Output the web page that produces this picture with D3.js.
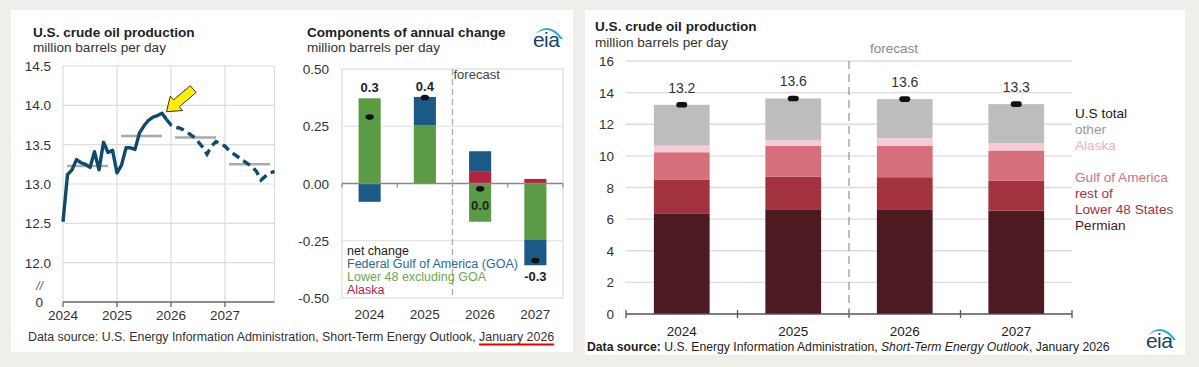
<!DOCTYPE html>
<html><head><meta charset="utf-8">
<script src="https://cdn.jsdelivr.net/npm/d3@7"></script>
<style>body{margin:0;background:#efeeea;}svg{display:block;font-family:"Liberation Sans",Arial,sans-serif;}</style>
</head><body>
<svg id="c" width="1199" height="367"></svg>
<script>
// ---------- DATA ----------
// Chart 1: monthly U.S. crude oil production (million b/d)
const prodActual = [12.52,13.12,13.18,13.31,13.27,13.25,13.21,13.41,13.18,13.53,13.40,13.43,
                    13.14,13.24,13.46,13.46,13.44,13.65,13.74,13.81,13.85,13.87,13.90,13.82];
const prodForecast = [13.75,13.72,13.71,13.68,13.64,13.60,13.54,13.47,13.38,13.48,13.54,13.51,
                      13.48,13.42,13.38,13.34,13.30,13.26,13.22,13.16,13.05,13.10,13.14,13.16];
const annualAvg = [13.23,13.61,13.59,13.25];
const years = ["2024","2025","2026","2027"];
const yTicks1 = [12.0,12.5,13.0,13.5,14.0,14.5];

// Chart 2: components of annual change
const chgL48 = [0.372,0.253,-0.167,-0.244];
const chgAlaska = [0.0,0.0,0.054,0.020];
const chgGOA = [-0.080,0.125,0.087,-0.113];
const chgNet = [0.29,0.375,-0.023,-0.336];
const chgLabels = ["0.3","0.4","0.0","-0.3"];
const yTicks2 = [0.50,0.25,0.00,-0.25,-0.50];
const legend2 = ["net change","Federal Gulf of America (GOA)","Lower 48 excluding GOA","Alaska"];

// Chart 3: production by region
const permian = [6.33,6.58,6.58,6.54];
const restL48 = [2.15,2.11,2.07,1.88];
const gulf = [1.75,1.94,1.98,1.92];
const alaska = [0.42,0.38,0.49,0.46];
const other = [2.58,2.62,2.47,2.47];
const totals = [13.23,13.63,13.59,13.27];
const totalLabels = ["13.2","13.6","13.6","13.3"];
const yTicks3 = [0,2,4,6,8,10,12,14,16];
const legend3 = ["U.S total","other","Alaska","Gulf of America","rest of","Lower 48 States","Permian"];

// ---------- DRAW ----------
const svg = d3.select("#c");
svg.append("rect").attr("width",1199).attr("height",367).attr("fill","#efeeea");
svg.append("rect").attr("x",11).attr("y",10).attr("width",562).attr("height",342).attr("fill","#fff");
svg.append("rect").attr("x",585).attr("y",10).attr("width",600).attr("height",345).attr("fill","#fff");

const grid = "#dcdcdc", txt = "#333";

function logo(x, y){
  const g = svg.append("g");
  g.append("path").attr("d",`M${x+2},${y-12} Q${x+17},${y-28} ${x+31},${y-8} L${x+28.3},${y-8} Q${x+17},${y-23.5} ${x+2},${y-12} Z`).attr("fill","#2ba6de");
  g.append("text").attr("x",x+1).attr("y",y).attr("font-size",21).attr("letter-spacing",-0.6)
   .attr("fill","#1c3f6e").text("eia");
}

// ===== Chart 1 =====
{
  const x = d3.scaleLinear().domain([0,47]).range([63,274.5]);
  const y = d3.scaleLinear().domain([11.5,14.5]).range([302,66]);
  const g = svg.append("g");
  g.append("text").attr("x",33).attr("y",37).attr("font-size",13.6).attr("font-weight","bold").attr("fill","#222").text("U.S. crude oil production");
  g.append("text").attr("x",33).attr("y",52).attr("font-size",13.6).attr("fill","#333").text("million barrels per day");
  g.selectAll(".hg").data(yTicks1).join("line").attr("x1",x(0)).attr("x2",x(47)).attr("y1",d=>y(d)).attr("y2",d=>y(d)).attr("stroke",grid).attr("stroke-width",1.2);
  g.selectAll(".vg").data([0,12,24,36,47]).join("line").attr("x1",d=>x(d)).attr("x2",d=>x(d)).attr("y1",y(14.5)).attr("y2",y(11.5)).attr("stroke",grid).attr("stroke-width",1.2);
  g.selectAll(".yl").data(yTicks1).join("text").attr("x",51).attr("y",d=>y(d)+5).attr("text-anchor","end").attr("font-size",13.5).attr("fill",txt).text(d=>d.toFixed(1));
  g.append("text").attr("x",43).attr("y",y(11.5)+5).attr("text-anchor","end").attr("font-size",13.5).attr("fill",txt).text("0");
  g.append("text").attr("x",43).attr("y",y(11.72)+5).attr("text-anchor","end").attr("font-size",12).attr("font-style","italic").attr("fill","#555").text("//");
  g.append("line").attr("x1",x(0)).attr("x2",x(47)).attr("y1",y(11.5)).attr("y2",y(11.5)).attr("stroke","#666").attr("stroke-width",1.5);
  g.selectAll(".xt").data([0,12,24,36]).join("line").attr("x1",d=>x(d)).attr("x2",d=>x(d)).attr("y1",y(11.5)).attr("y2",y(11.5)+5).attr("stroke","#666").attr("stroke-width",1.3);
  g.selectAll(".xl").data(years).join("text").attr("x",(d,i)=>x(i*12)).attr("y",320).attr("text-anchor","middle").attr("font-size",13.5).attr("fill",txt).text(d=>d);
  g.selectAll(".avg").data(annualAvg).join("line").attr("x1",(d,i)=>x(i*12+0.9)).attr("x2",(d,i)=>x(i*12+10)).attr("y1",d=>y(d)).attr("y2",d=>y(d)).attr("stroke","#aaa").attr("stroke-width",2.5);
  const line = d3.line().x(d=>x(d[0])).y(d=>y(d[1]));
  const act = prodActual.map((v,i)=>[i,v]);
  const fc = [[23,prodActual[23]]].concat(prodForecast.map((v,i)=>[24+i,v]));
  g.append("path").attr("d",line(act)).attr("fill","none").attr("stroke","#0e4a6b").attr("stroke-width",3.4).attr("stroke-linejoin","round");
  g.append("path").attr("d",line(fc)).attr("fill","none").attr("stroke","#0e4a6b").attr("stroke-width",3.4).attr("stroke-dasharray","8,5");
  const pk = d3.maxIndex(prodActual);
  const tx = x(pk)+4.5, ty = y(prodActual[pk])-1.5;
  const ang = Math.atan2(-22,26);
  const pts = [[0,0],[13,-9.5],[13,-4.5],[35,-4.5],[35,4.5],[13,4.5],[13,9.5]].map(([a,b])=>[tx+a*Math.cos(ang)-b*Math.sin(ang), ty+a*Math.sin(ang)+b*Math.cos(ang)]);
  g.append("polygon").attr("points",pts.map(p=>p.join(",")).join(" ")).attr("fill","#ffee00").attr("stroke","#333").attr("stroke-width",1);
}

// ===== Chart 2 =====
{
  const x = d3.scaleBand().domain(years).range([342,563]).paddingInner(0.6).paddingOuter(0.3);
  const y = d3.scaleLinear().domain([-0.5,0.5]).range([298,69]);
  const g = svg.append("g");
  g.append("text").attr("x",307).attr("y",37).attr("font-size",13.6).attr("font-weight","bold").attr("fill","#222").text("Components of annual change");
  g.append("text").attr("x",307).attr("y",52).attr("font-size",13.6).attr("fill","#333").text("million barrels per day");
  logo(532,47);
  g.selectAll(".hg").data([0.25,-0.25]).join("line").attr("x1",342).attr("x2",563).attr("y1",d=>y(d)).attr("y2",d=>y(d)).attr("stroke",grid).attr("stroke-width",1.2);
  g.append("rect").attr("x",342).attr("y",y(0.5)).attr("width",221).attr("height",y(-0.5)-y(0.5)).attr("fill","none").attr("stroke",grid).attr("stroke-width",1.2);
  g.selectAll(".yl").data(yTicks2).join("text").attr("x",329).attr("y",d=>y(d)+5).attr("text-anchor","end").attr("font-size",13.5).attr("fill",txt).text(d=>d.toFixed(2));
  const rows = years.map((yr,i)=>({yr, L48:chgL48[i], Alaska:chgAlaska[i], GOA:chgGOA[i]}));
  const stack = d3.stack().keys(["L48","Alaska","GOA"]).offset(d3.stackOffsetDiverging)(rows);
  const col = {L48:"#5b9b45", Alaska:"#b3233b", GOA:"#1b5a87"};
  stack.forEach(s=>{
    g.selectAll(null).data(s).join("rect").attr("x",d=>x(d.data.yr)).attr("width",x.bandwidth())
      .attr("y",d=>y(Math.max(d[0],d[1]))).attr("height",d=>Math.abs(y(d[0])-y(d[1]))).attr("fill",col[s.key]);
  });
  g.append("line").attr("x1",342).attr("x2",563).attr("y1",y(0)).attr("y2",y(0)).attr("stroke","#888").attr("stroke-width",1.3);
  g.selectAll(".zt").data(d3.range(5)).join("line").attr("x1",d=>342+d*x.step()).attr("x2",d=>342+d*x.step()).attr("y1",y(0)).attr("y2",y(0)+4).attr("stroke","#888").attr("stroke-width",1.2);
  const fx = (x("2025")+x.bandwidth()+x("2026"))/2;
  g.append("line").attr("x1",fx).attr("x2",fx).attr("y1",y(0.5)).attr("y2",y(-0.5)).attr("stroke","#aaa").attr("stroke-width",1.3).attr("stroke-dasharray","6,4");
  g.append("text").attr("x",fx+1).attr("y",79).attr("font-size",13).attr("fill","#444").text("forecast");
  g.selectAll(".net").data(chgNet).join("ellipse").attr("cx",(d,i)=>x(years[i])+x.bandwidth()/2).attr("cy",d=>y(d)).attr("rx",4.2).attr("ry",2.8).attr("fill","#111");
  g.selectAll(".nl").data(chgLabels).join("text").attr("x",(d,i)=>x(years[i])+x.bandwidth()/2)
    .attr("y",(d,i)=>{ const pos = Math.max(0,chgL48[i])+Math.max(0,chgAlaska[i])+Math.max(0,chgGOA[i]); return chgNet[i]>=0 ? y(pos)-6 : y(chgNet[i])+21; })
    .attr("text-anchor","middle").attr("font-size",13).attr("font-weight","bold").attr("fill","#222").text(d=>d);
  const lc = ["#222","#2a6a96","#6aa84f","#b3233b"];
  g.selectAll(".lg").data(legend2).join("text").attr("x",347).attr("y",(d,i)=>254.5+i*13.3).attr("font-size",12.5).attr("fill",(d,i)=>lc[i]).text(d=>d);
  g.selectAll(".xl").data(years).join("text").attr("x",d=>x(d)+x.bandwidth()/2).attr("y",319).attr("text-anchor","middle").attr("font-size",13.5).attr("fill",txt).text(d=>d);
  const ds = svg.append("text").attr("x",28).attr("y",341).attr("font-size",12.4).attr("fill","#333")
    .text("Data source: U.S. Energy Information Administration, Short-Term Energy Outlook, January 2026");
  const full = ds.text(); const k = full.indexOf("January 2026");
  const n = ds.node();
  const sx = n.getStartPositionOfChar(k).x, w = n.getSubStringLength(k, 12);
  svg.append("line").attr("x1",sx).attr("x2",sx+w).attr("y1",344.5).attr("y2",344.5).attr("stroke","#e00000").attr("stroke-width",2);
}

// ===== Chart 3 =====
{
  const x = d3.scaleBand().domain(years).range([626,1072]).paddingInner(0.5).paddingOuter(0.25);
  const y = d3.scaleLinear().domain([0,16]).range([314,61]);
  const g = svg.append("g");
  g.append("text").attr("x",595).attr("y",31).attr("font-size",13.6).attr("font-weight","bold").attr("fill","#222").text("U.S. crude oil production");
  g.append("text").attr("x",595).attr("y",47).attr("font-size",13.6).attr("fill","#333").text("million barrels per day");
  g.selectAll(".hg").data(yTicks3.slice(1)).join("line").attr("x1",626).attr("x2",1072).attr("y1",d=>y(d)).attr("y2",d=>y(d)).attr("stroke",grid).attr("stroke-width",1.3);
  g.selectAll(".yl").data(yTicks3).join("text").attr("x",614).attr("y",d=>y(d)+5).attr("text-anchor","end").attr("font-size",13.5).attr("fill",txt).text(d=>d);
  const rows = years.map((yr,i)=>({yr, permian:permian[i], rest:restL48[i], gulf:gulf[i], alaska:alaska[i], other:other[i]}));
  const stack = d3.stack().keys(["permian","rest","gulf","alaska","other"])(rows);
  const col = {permian:"#4e1a21", rest:"#a3323f", gulf:"#d5707b", alaska:"#f5ccd3", other:"#bdbdbd"};
  stack.forEach(s=>{
    g.selectAll(null).data(s).join("rect").attr("x",d=>x(d.data.yr)).attr("width",x.bandwidth())
      .attr("y",d=>y(d[1])).attr("height",d=>y(d[0])-y(d[1])).attr("fill",col[s.key]);
  });
  g.append("line").attr("x1",626).attr("x2",1072).attr("y1",y(0)).attr("y2",y(0)).attr("stroke","#555").attr("stroke-width",1.5);
  g.selectAll(".zt").data(d3.range(5)).join("line").attr("x1",d=>626+d*x.step()).attr("x2",d=>626+d*x.step()).attr("y1",y(0)-4).attr("y2",y(0)+4).attr("stroke","#555").attr("stroke-width",1.3);
  const fx = 626+2*x.step();
  g.append("line").attr("x1",fx).attr("x2",fx).attr("y1",y(16)).attr("y2",y(0)).attr("stroke","#999").attr("stroke-width",1.3).attr("stroke-dasharray","8,5");
  g.append("text").attr("x",fx+21).attr("y",53).attr("font-size",13.5).attr("fill","#888").text("forecast");
  g.selectAll(".tm").data(totals).join("rect").attr("x",(d,i)=>x(years[i])+x.bandwidth()/2-5.5).attr("y",d=>y(d)-2.8).attr("width",11).attr("height",5.6).attr("rx",2.8).attr("fill","#111");
  g.selectAll(".tl").data(totalLabels).join("text").attr("x",(d,i)=>x(years[i])+x.bandwidth()/2).attr("y",(d,i)=>y(totals[i])-12)
    .attr("text-anchor","middle").attr("font-size",14).attr("fill","#333").text(d=>d);
  const lc = ["#1a1a1a","#9a9a9a","#f0b0bc","#d9707e","#a8323f","#a8323f","#4e1a21"];
  const li = [0,1,2,4,5,6,7];
  g.selectAll(".lg").data(legend3).join("text").attr("x",1075).attr("y",(d,i)=>118+li[i]*16).attr("font-size",13.6).attr("fill",(d,i)=>lc[i]).text(d=>d);
  g.selectAll(".xl").data(years).join("text").attr("x",d=>x(d)+x.bandwidth()/2).attr("y",336).attr("text-anchor","middle").attr("font-size",13.5).attr("fill","#222").text(d=>d);
  const ds = svg.append("text").attr("x",587).attr("y",351).attr("font-size",12.2).attr("fill","#222");
  ds.append("tspan").attr("font-weight","bold").text("Data source:");
  ds.append("tspan").text(" U.S. Energy Information Administration, ");
  ds.append("tspan").attr("font-style","italic").text("Short-Term Energy Outlook");
  ds.append("tspan").text(", January 2026");
  logo(1145,348);
}
</script>
</body></html>
